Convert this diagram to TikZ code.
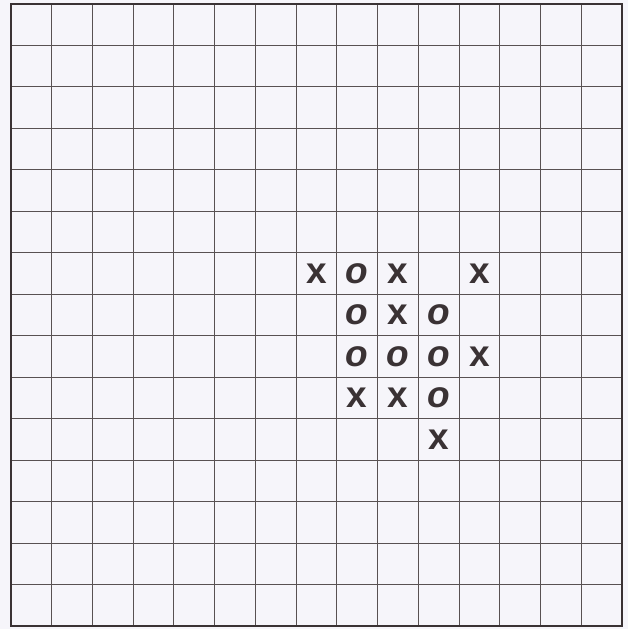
\documentclass[tikz,border=0pt]{standalone}
\usepackage{fontspec}
\setmainfont{Liberation Sans}
\definecolor{paper}{RGB}{246,245,250}
\definecolor{ink}{RGB}{58,50,52}
\begin{document}
\begin{tikzpicture}[x=1pt,y=-1pt,
  gridline/.style={line width=0.9pt, draw=ink!85},
  frameline/.style={line width=2.4pt, draw=ink},
  xmark/.style={font=\fontsize{37}{37}\selectfont\bfseries, text=ink, inner sep=0pt, anchor=center},
  omark/.style={xmark, font=\fontsize{37}{37}\selectfont\bfseries\itshape}]
\useasboundingbox (0,0) rectangle (628,629);
\fill[paper] (0,0) rectangle (628,629);
\foreach \i in {1,...,14} \draw[gridline] ({11+\i*40.73},4) -- ({11+\i*40.73},626);
\foreach \j in {1,...,14} \draw[gridline] (11,{4+\j*41.47}) -- (622,{4+\j*41.47});
\draw[frameline] (11,4) rectangle (622,626);
\foreach \c/\r in {7/6, 9/6, 11/6, 9/7, 11/8, 8/9, 9/9, 10/10}
  \node[xmark] (x\c-\r) at ({11+40.73*(\c+0.5)},{4+41.47*(\r+0.5)}) {x};
\foreach \c/\r in {8/6, 8/7, 10/7, 8/8, 9/8, 10/8, 10/9}
  \node[omark] (o\c-\r) at ({11+40.73*(\c+0.5)},{4+41.47*(\r+0.5)}) {o};
\end{tikzpicture}
\end{document}
